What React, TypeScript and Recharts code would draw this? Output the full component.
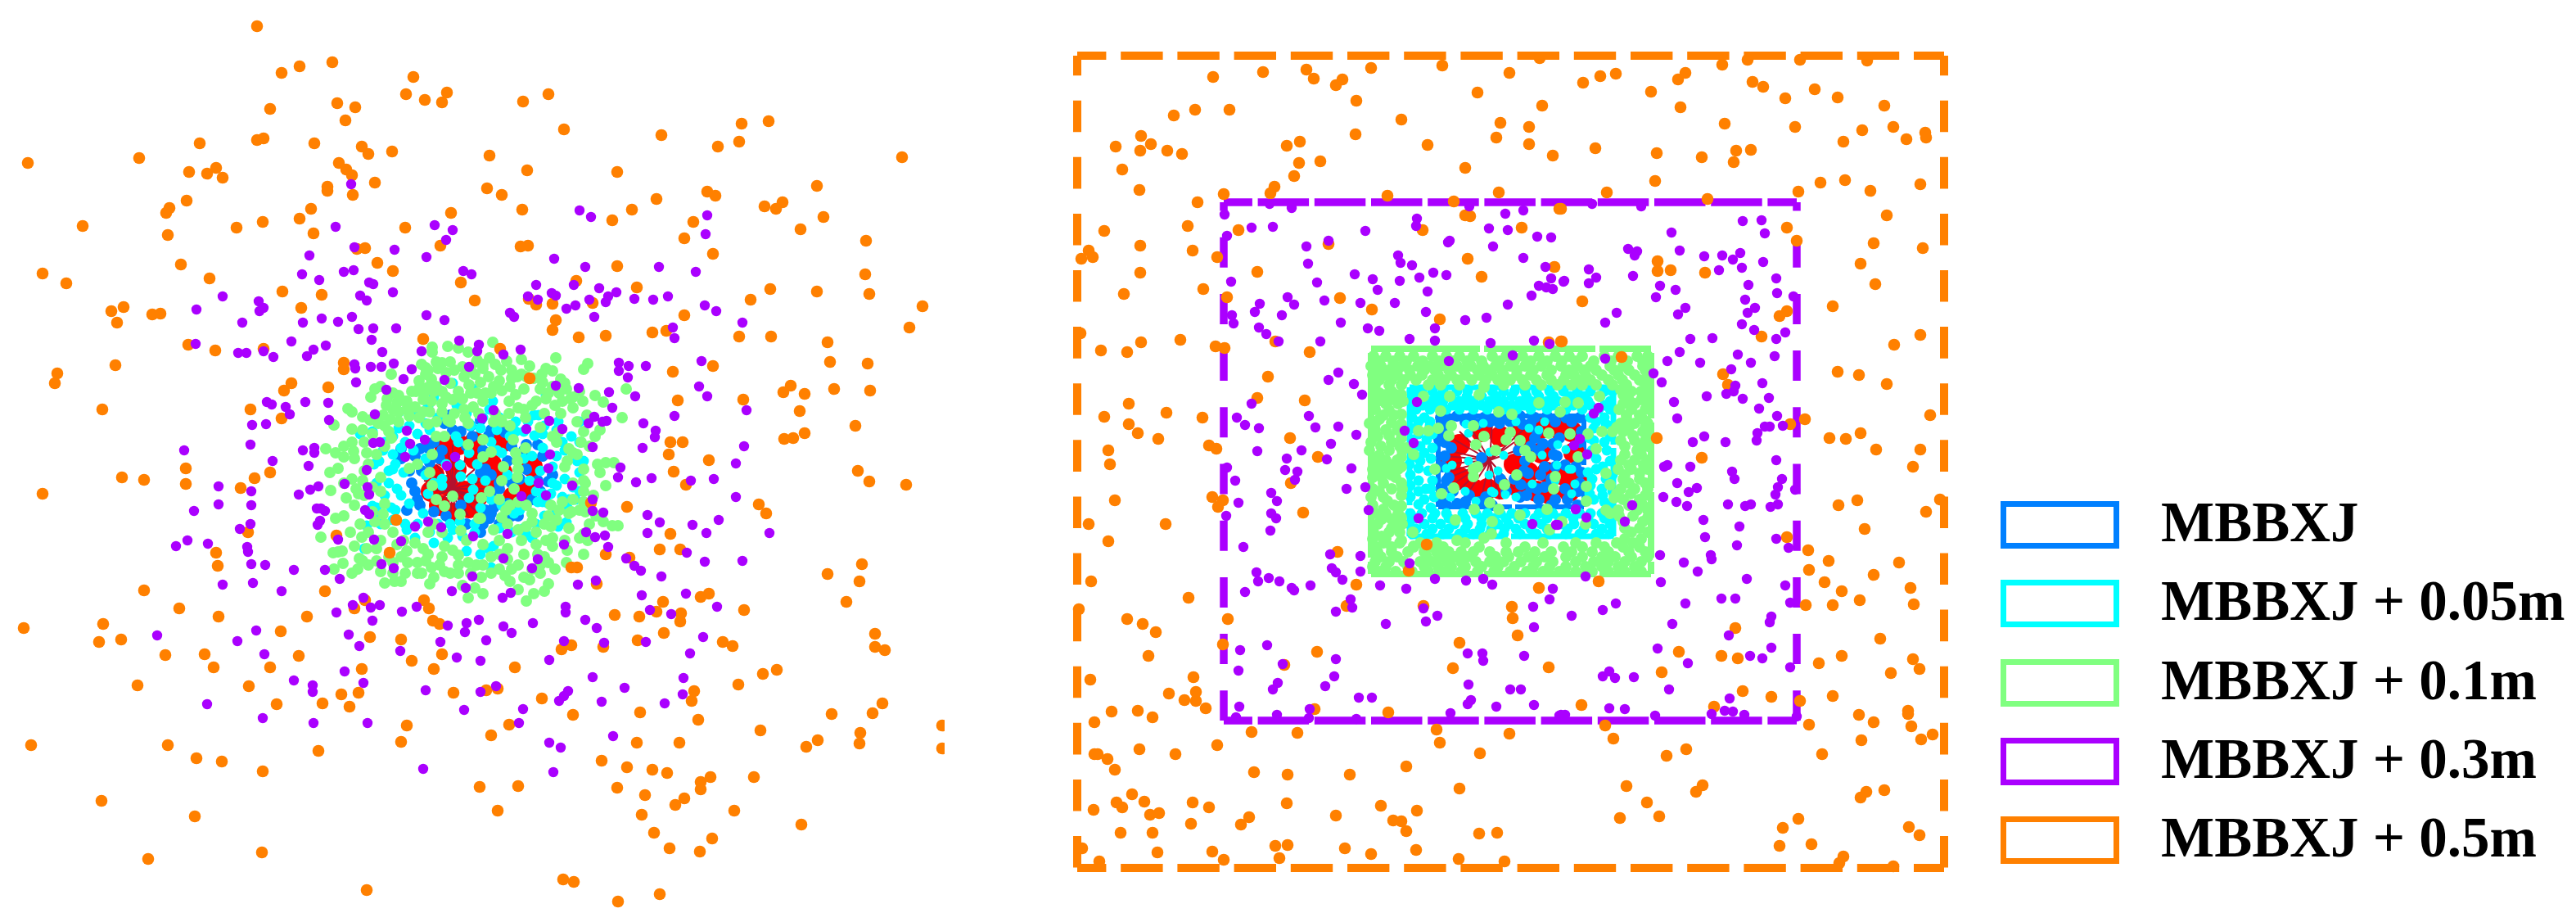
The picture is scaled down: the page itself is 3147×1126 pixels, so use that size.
import React from 'react';
import { ScatterChart, Scatter, XAxis, YAxis, ReferenceLine } from 'recharts';

// Point positions, in picture units (no axes in the original)
const leftOrange = [
  [314,32],[344,89],[366,81],[406,76],[505,94],[496,115],[519,122],[540,125],[546,113],[412,126],[434,131],[422,147],[330,133],[314,171],[322,169],[384,175],[442,179],[450,188],[479,185],[244,175],[170,193],[34,199],[231,210],[253,212],[264,205],[272,217],[414,199],[423,207],[430,214],[458,223],[400,228],[400,233],[431,238],[228,245],[207,254],[203,260],[380,255],[366,267],[101,276],[289,278],[321,271],[383,285],[205,287],[495,278],[551,260],[598,190],[595,230],[538,300],[436,304],[446,303],[461,321],[480,331],[563,345],[580,367],[221,323],[52,334],[81,346],[256,340],[345,356],[393,360],[368,376],[136,380],[151,375],[143,394],[186,384],[196,383],[230,421],[263,428],[322,426],[517,414],[141,446],[70,456],[67,468],[420,443],[420,451],[356,468],[347,477],[401,473],[125,500],[306,500],[344,511],
  [639,124],[670,115],[689,158],[808,165],[906,151],[939,148],[903,173],[877,179],[1102,192],[644,208],[754,210],[998,227],[613,238],[802,243],[864,234],[874,239],[934,252],[948,255],[956,247],[638,256],[772,256],[748,269],[847,271],[1006,265],[978,280],[836,291],[1058,294],[636,301],[645,300],[871,310],[754,325],[1057,335],[704,343],[941,353],[998,356],[1062,359],[778,351],[917,366],[646,365],[655,372],[675,371],[724,370],[1127,374],[836,385],[679,391],[675,403],[1111,400],[797,406],[814,404],[707,412],[740,410],[903,411],[942,411],[1011,418],[611,426],[1014,442],[1060,444],[871,447],[822,454],[647,462],[966,471],[957,479],[983,481],[1019,475],[1063,477],[828,489],[908,488],[977,502],[1045,520],[983,529],[958,536],[969,535],[819,540],[834,540],[817,555],[866,562],
  [227,572],[149,583],[176,586],[311,584],[330,577],[227,591],[294,596],[52,603],[484,635],[303,650],[411,654],[264,675],[266,691],[476,675],[176,721],[397,722],[446,733],[518,733],[433,743],[524,743],[219,743],[267,753],[375,753],[529,758],[537,762],[126,762],[29,767],[343,771],[121,784],[148,781],[452,778],[490,781],[202,800],[250,799],[365,801],[540,799],[261,815],[330,815],[503,807],[530,817],[442,817],[168,837],[304,838],[554,846],[594,843],[438,846],[417,848],[394,859],[338,860],[427,863],[497,886],[600,898],[490,906],[38,910],[205,910],[389,917],[240,926],[271,930],[321,942],[586,961],[124,978],[238,997],[320,1041],[181,1049],[448,1087],
  [823,576],[838,592],[1048,575],[1062,588],[1107,592],[766,619],[927,616],[936,627],[722,614],[819,652],[806,671],[831,671],[740,677],[769,681],[698,693],[705,693],[1053,689],[1011,701],[1050,710],[729,713],[1034,735],[810,735],[866,725],[856,729],[909,745],[751,751],[781,753],[802,747],[832,749],[831,759],[811,773],[1069,774],[1069,790],[1081,794],[779,782],[883,784],[895,789],[698,788],[686,793],[737,790],[629,815],[949,818],[932,823],[902,836],[608,841],[848,844],[845,856],[662,853],[1078,859],[1066,871],[1016,872],[700,873],[782,870],[853,879],[622,885],[929,892],[1151,886],[1051,895],[999,904],[985,912],[1050,908],[1151,914],[778,907],[830,907],[735,929],[766,937],[797,940],[815,944],[868,949],[921,949],[856,955],[856,964],[633,960],[754,962],[788,971],[836,975],[825,983],[608,990],[784,995],[897,990],[979,1007],[799,1017],[870,1024],[818,1036],[855,1040],[688,1074],[701,1077],[806,1092],[755,1101],
];

const leftPurple = [
  [429,225],[410,277],[531,275],[553,281],[545,293],[433,302],[482,305],[378,312],[521,314],[420,332],[432,330],[369,335],[390,342],[566,331],[576,335],[451,345],[456,347],[480,357],[272,362],[440,361],[448,367],[316,368],[322,376],[317,380],[240,378],[521,385],[430,387],[393,389],[413,393],[543,391],[296,394],[370,394],[438,402],[456,401],[484,401],[356,417],[454,415],[561,416],[239,420],[398,422],[383,427],[375,435],[322,429],[291,431],[301,431],[334,436],[467,430],[515,429],[585,421],[583,429],[433,445],[434,450],[453,448],[466,448],[481,444],[503,451],[573,448],[493,463],[543,464],[435,467],[472,476],[326,491],[332,494],[373,491],[401,492],[349,497],[354,506],[458,506],[402,513],[308,519],[325,518],[589,511],[497,526],[519,537],[306,543],[456,541],[464,540],[501,542],[225,550],[370,550],[384,547],[384,553],
  [708,257],[722,265],[864,263],[862,286],[677,316],[715,326],[805,326],[850,332],[655,348],[701,348],[732,352],[674,358],[679,361],[645,362],[657,366],[753,357],[743,362],[740,369],[720,366],[775,365],[798,366],[816,362],[703,373],[692,377],[861,373],[875,380],[623,382],[628,387],[726,387],[907,394],[822,400],[824,413],[636,427],[615,433],[756,443],[768,447],[789,447],[857,441],[756,453],[767,461],[679,471],[707,474],[854,472],[744,479],[776,484],[864,484],[912,501],[748,498],[824,508],[726,509],[671,514],[719,517],[741,514],[736,515],[786,517],[801,526],[800,534],[687,524],[643,524],[724,546],[785,547],[909,545],[672,555],[603,501],[556,558],[546,569],[495,558],
  [333,563],[377,569],[448,574],[267,594],[307,600],[421,591],[389,594],[379,598],[365,604],[449,595],[451,604],[267,616],[307,617],[237,624],[387,621],[392,621],[397,624],[446,623],[451,628],[391,636],[388,641],[306,640],[293,646],[507,643],[523,637],[539,644],[578,655],[457,659],[490,661],[413,659],[229,660],[215,667],[254,664],[302,668],[303,674],[307,689],[324,690],[466,689],[481,694],[359,696],[397,696],[415,707],[577,704],[272,714],[309,712],[344,722],[552,722],[569,718],[444,730],[431,739],[453,742],[464,739],[509,741],[411,748],[491,747],[455,758],[585,757],[547,764],[570,761],[568,772],[313,770],[192,776],[426,775],[290,783],[538,784],[594,782],[439,789],[489,795],[323,799],[558,803],[587,807],[421,820],[359,831],[444,834],[382,837],[382,845],[520,843],[587,845],[253,860],[567,867],[321,877],[383,883],[449,883],[517,939],
  [758,571],[755,583],[777,589],[796,584],[899,566],[872,585],[844,587],[899,607],[670,572],[658,590],[699,593],[667,605],[637,606],[620,652],[724,610],[724,624],[737,626],[791,629],[806,638],[846,641],[878,635],[791,651],[863,651],[940,651],[716,650],[727,656],[739,654],[689,665],[743,668],[839,675],[615,682],[657,683],[765,682],[861,686],[907,685],[775,691],[783,697],[650,694],[808,704],[728,709],[706,714],[838,725],[784,727],[614,730],[624,724],[876,741],[691,741],[691,748],[794,745],[820,750],[715,757],[651,761],[615,765],[729,767],[625,773],[859,778],[789,784],[689,783],[738,785],[843,798],[671,806],[724,827],[835,828],[763,840],[694,844],[689,850],[683,856],[834,848],[735,857],[812,859],[606,838],[639,866],[634,883],[749,899],[671,907],[685,913],[676,943],
];

const leftGreen = [
  [528,424],[528,430],[547,423],[572,430],[560,425],[602,418],[583,440],[598,437],[619,441],[637,439],[647,447],[679,437],[718,444],[713,451],[667,450],[675,453],[662,457],[685,463],[533,442],[550,442],[540,443],[520,449],[520,457],[512,465],[527,463],[513,472],[508,478],[523,473],[533,472],[540,478],[550,468],[567,460],[582,442],[590,450],[580,457],[597,460],[610,465],[603,472],[587,467],[573,470],[583,480],[593,480],[613,477],[623,472],[630,482],[622,490],[633,498],[643,460],[637,457],[663,467],[670,480],[683,480],[692,475],[708,478],[697,487],[687,490],[678,495],[667,487],[727,483],[737,491],[765,475],
  [478,457],[465,472],[458,475],[453,485],[473,487],[480,480],[487,483],[497,490],[480,500],[468,507],[487,503],[497,500],[507,497],[517,488],[527,490],[540,493],[553,488],[565,487],[425,499],[430,503],[443,509],[452,513],[462,517],[477,512],[408,519],[430,524],[443,525],[475,527],[487,515],[517,503],[523,518],[533,515],[547,513],[567,500],[578,497],[612,513],[623,520],[642,510],
  [398,548],[410,553],[420,558],[432,551],[433,560],[448,553],[413,572],[403,577],[423,608],[404,599],[435,597],[438,603],[433,617],[420,630],[410,633],[443,587],[450,567],[465,583],[470,615],[468,628],[458,637],[428,650],[442,656],[392,656],[433,667],[418,673],[407,675],[413,674],[439,682],[419,688],[408,695],[437,695],[443,685],[448,670],[460,670],[465,698],[470,712],[482,710],[490,710],[480,687],[490,680],[498,687],[510,687],[497,673],[493,660],[507,663],[517,670],[523,677],[537,690],[527,693],[515,700],[525,713],[543,698],[560,700],[572,730],[580,718],[590,725],[582,690],[588,705],[572,687],[560,678],[553,672],[543,667],[523,650],[563,648],[603,647],[587,633],[637,660],[640,677],[657,677],[633,690],[620,683],[610,677],[617,703],[623,710],[633,720],[652,725],[643,734],[665,722],[670,713],[647,708],[660,700],[678,695],[670,687],[667,660],[675,667],[675,657],[673,643],[670,630],[673,617],[683,623],[695,627],[687,613],[713,677],[713,652],[708,657],[718,660],[693,672],[692,687],
  [618,623],[623,617],[633,613],[643,617],[650,627],[650,637],[643,643],[633,647],[620,640],[613,632],
  [713,573],[730,567],[740,565],[750,565],[733,577],[740,593],[755,642],[748,642],[737,637],[728,630],[713,613],[708,623],[698,625],[713,600],[713,587],[693,563],[700,553],[710,540],[727,533],[733,525],[717,507],[705,515],[713,527],[682,528],[675,533],[660,522],[760,510],
  [572,543],[590,537],[600,552],[590,558],[528,555],[510,567],[500,572],[525,577],[615,570],[630,553],[632,563],[633,573],[632,583],[628,597],[613,587],[598,600],[610,610],[588,608],[553,606],[528,593],[533,610],[543,618],[562,628],[585,633],[533,533],[543,533],[550,515],[572,517],[603,515],[613,515],[627,537],[642,547],
];

// second pass over the crowded cloud, the green dots nearly merge there
const leftGreenFill = [
  [515,445],[523,452],[535,450],[545,455],[555,452],[565,448],[575,452],[590,445],[605,445],[612,452],[625,452],[632,460],[652,462],[660,475],[675,472],[690,468],[700,485],[655,490],[640,475],[625,462],[600,480],[590,490],[575,480],[560,478],[545,485],[530,478],[518,480],[503,478],[495,490],[485,492],[472,495],[500,508],[512,510],[525,503],[540,503],[555,505],[568,510],[585,505],[605,505],[622,505],[640,500],[650,495],[665,505],[685,505],[700,498],[712,490],
  [470,520],[455,530],[445,540],[430,540],[420,545],[478,535],[470,545],[460,555],[445,575],[430,585],[420,590],[455,595],[465,600],[445,605],[455,625],[440,640],[450,650],[470,640],[480,650],[465,660],[680,540],[695,548],[705,555],[720,545],[690,570],[700,590],[715,590],[725,605],[700,610],[680,635],[695,645],[665,640],[655,650],[715,625],[720,640],[690,660],
  [485,665],[475,680],[460,685],[450,690],[430,700],[520,685],[510,700],[495,700],[480,700],[530,705],[540,680],[550,700],[560,690],[575,700],[590,690],[600,700],[565,715],[600,680],[610,695],[625,695],[640,705],[650,695],[660,690],[620,670],[590,665],[610,660],[570,660],[540,650],[530,640],[655,665],[665,680],
];

const leftCyan = [
  [553,468],[578,475],[530,485],[558,495],[523,496],[506,503],[602,490],[598,500],[652,507],[658,507],[667,483],[488,503],[455,527],[440,530],[487,523],[480,533],[468,550],[463,563],[457,567],[483,567],[490,547],[520,517],[557,533],[573,517],[587,523],[607,525],[623,533],[640,527],[653,532],[663,530],[682,515],[708,515],[687,540],[698,533],[708,540],[705,563],[708,577],[680,557],[663,547],[650,557],[613,553],[600,540],[573,553],[560,540],[545,567],[562,568],[563,582],[577,585],[593,587],[578,598],[573,608],[540,593],[520,580],[523,603],[607,550],[583,567],[630,527],
  [480,573],[485,597],[475,590],[493,577],[455,618],[460,620],[478,620],[483,623],[448,642],[458,630],[445,670],[497,647],[507,657],[517,627],[530,663],[547,657],[553,647],[562,637],[580,640],[597,670],[603,667],[600,693],[587,677],[570,673],[650,657],[643,653],[657,613],[663,613],[673,603],[687,607],[693,620],[682,643],[692,638],[703,610],[708,600],[680,593],[663,603],[647,587],[628,627],[635,623],[613,617],[587,620],[713,563],
  [500,520],[510,530],[525,525],[535,510],[570,505],[590,510],[610,510],[630,515],[645,515],[665,520],[680,525],[690,550],[675,570],[690,585],[700,595],[675,590],[660,575],[470,540],[480,555],[495,540],[505,550],[475,575],[460,590],[490,605],[500,615],[470,605],[465,640],[480,635],[495,640],[510,640],[525,650],[535,640],[550,640],[565,655],[580,650],[610,645],[625,650],[640,645],[655,640],[665,630],[680,625],[670,615],[655,600],[695,610],[520,560],[530,590],[600,610],[620,580],[640,560],[600,500],[575,520],[540,585],
];

const leftBlue = [
  [550,507],[543,517],[553,525],[587,513],[617,528],[597,532],[577,533],[563,527],[530,540],[513,548],[507,557],[490,548],[537,560],[523,547],[587,577],[600,580],[610,590],[593,573],[610,597],[670,588],[657,587],[620,563],[643,573],[503,590],[507,600],[497,623],[513,617],[600,627],[598,633],[603,620],[593,623],[625,630],[633,630],[587,650],[563,617],[657,543],[643,543],[663,557],
  [575,520],[600,525],[625,545],[640,550],[525,565],[515,575],[500,575],[510,610],[530,625],[590,640],[610,640],[620,615],[650,610],[660,600],[675,580],[600,605],[625,590],[540,550],[570,545],[590,550],[635,585],[570,640],[545,630],[490,560],
];

const leftRed = [
  [527,600],[537,617],[553,627],[573,620],[583,607],[547,593],[567,600],[530,580],[543,557],[560,543],[580,540],[543,543],[600,567],[593,590],[613,577],[613,540],[640,563],[650,570],[637,600],[645,600],[627,607],[580,560],[557,573],[613,533],
];

const leftFanEnds = [
  [520,600],[518,593],[518,587],[522,580],[527,607],[532,617],[537,623],[543,630],[550,633],[557,635],[563,632],[572,630],[580,623],[587,617],[593,613],[583,607],[527,577],[533,567],[540,560],[547,550],[553,543],[560,560],[570,557],[580,573],[593,587],[600,597],
];

const rightOrange = [
  [1482,94],[1543,88],[1596,85],[1605,96],[1632,104],[1640,97],[1675,83],[1762,80],[1844,89],[1881,71],[1805,113],[1657,123],[1884,129],[1434,141],[1460,134],[1502,134],[1712,146],[1833,150],[1868,155],[1394,166],[1656,164],[1828,168],[1363,179],[1406,176],[1393,184],[1426,184],[1444,188],[1572,178],[1588,173],[1744,177],[1868,176],[1897,190],[1587,199],[1613,197],[1371,207],[1581,215],[1790,205],[1392,232],[1557,228],[1552,236],[1495,237],[1695,239],[1831,235],[1463,247],[1776,246],[1905,255],[1790,263],[1796,264],[1349,282],[1451,276],[1513,281],[1738,281],[1859,278],[1623,298],[1393,300],[1457,306],[1330,306],[1321,316],[1335,314],[1487,314],[1793,316],[1899,326],[1393,333],[1536,332],[1810,338],[1373,359],[1470,353],[1499,363],[1637,364],[1676,378],[1759,390],[1320,407],[1442,415],[1394,418],[1345,428],[1377,430],[1558,417],[1485,423],[1496,425],[1600,430],[1892,418],[1907,417],[1549,460],[1536,486],[1594,489],[1379,493],[1425,504],[1349,509],[1469,510],[1379,518],[1390,529],[1415,536],[1576,535],[1477,544],[1486,548],[1354,550],[1610,558],[1356,567],
  [1934,101],[1955,93],[1974,90],[2017,112],[2050,97],[2059,89],[2104,79],[2135,73],[2199,73],[2281,74],[2141,100],[2154,106],[2181,120],[2217,109],[2245,119],[2053,131],[2302,129],[2107,151],[2193,155],[2275,159],[2313,155],[2252,173],[2329,170],[2352,162],[2353,168],[1949,181],[2024,187],[2079,192],[2121,184],[2139,183],[2118,198],[2022,221],[2224,223],[2254,220],[2285,233],[2346,225],[2197,234],[1963,235],[2086,243],[1907,255],[2305,263],[2183,278],[2195,294],[2289,297],[2349,303],[2273,322],[2025,319],[2025,331],[2041,330],[2083,333],[2291,347],[1933,368],[2239,374],[2183,380],[2174,386],[2152,411],[2346,409],[1908,417],[2314,421],[1981,436],[2105,457],[2245,454],[2271,458],[2111,470],[2305,469],[2358,507],[2205,512],[2187,518],[2024,535],[2235,535],[2255,536],[2273,529],[2292,549],[2346,549],[2079,559],[2337,570],
  [1362,611],[1481,607],[1494,611],[1488,619],[1577,590],[1592,626],[1330,640],[1424,640],[1354,661],[1743,665],[1634,674],[1721,697],[1333,710],[1657,714],[1880,718],[1452,730],[1847,741],[1739,740],[1645,740],[1318,744],[1377,756],[1396,762],[1412,772],[1500,756],[1848,755],[1854,776],[1783,785],[1494,787],[1609,796],[1403,801],[1569,812],[1775,816],[1892,815],[1458,827],[1332,830],[1428,847],[1461,845],[1447,855],[1461,856],[1473,865],[1358,869],[1390,868],[1408,876],[1606,866],[1696,870],[1337,882],[1529,894],[1585,895],[1755,891],[1844,896],[1759,907],[1487,910],[1392,915],[1337,921],[1341,921],[1436,921],[1353,927],[1808,920],[1718,936],[1362,940],[1532,943],[1573,946],[1649,946],[1783,963],[1383,970],[1364,980],[1398,979],[1371,986],[1336,989],[1457,980],[1477,986],[1572,981],[1687,984],[1731,990],[1405,995],[1416,993],[1526,998],[1632,996],[1516,1007],[1455,1006],[1702,1002],[1712,1003],[1718,1015],[1369,1017],[1408,1017],[1807,1018],[1829,1017],[1322,1036],[1558,1033],[1573,1032],[1643,1036],[1414,1041],[1481,1040],[1675,1043],[1730,1038],[1563,1048],[1495,1050],[1782,1049],[1838,1052],[1343,1052],
  [2246,617],[2269,611],[2370,610],[2353,625],[2278,646],[2183,656],[2209,672],[2234,685],[2320,687],[2210,696],[2289,702],[2229,711],[2334,718],[1953,710],[2250,722],[2272,733],[2206,739],[2239,739],[2338,738],[2120,767],[2297,780],[2051,796],[2103,801],[2123,804],[2250,801],[2222,810],[2337,805],[2345,817],[2310,822],[2030,821],[2129,844],[2164,851],[2239,850],[2199,856],[1932,861],[2094,863],[2271,873],[2289,882],[2331,868],[2331,872],[2335,887],[2210,885],[1961,886],[2361,897],[2347,903],[2274,904],[1971,902],[2036,923],[2060,915],[2226,921],[1987,960],[2080,959],[2072,967],[2280,967],[2273,974],[2302,965],[2012,980],[1979,999],[2027,997],[2197,1000],[2178,1011],[2332,1010],[2345,1020],[2174,1033],[2213,1031],[2252,1046],[2247,1054],[2313,1058],
];

const rightPurple = [
  [1496,262],[1551,249],[1578,254],[1731,267],[1730,276],[1795,252],[1839,261],[1861,257],[1529,278],[1555,277],[1668,282],[1819,279],[1842,281],[1499,288],[1878,289],[1895,290],[1623,294],[1596,301],[1769,296],[1771,294],[1824,301],[1708,312],[1711,321],[1861,315],[1598,322],[1725,324],[1888,326],[1655,335],[1751,333],[1767,336],[1677,341],[1734,339],[1710,343],[1504,344],[1609,345],[1895,340],[1910,344],[1880,349],[1897,353],[1889,351],[1683,354],[1744,356],[1871,361],[1573,363],[1539,371],[1581,372],[1618,367],[1662,370],[1704,370],[1842,372],[1533,381],[1742,381],[1566,385],[1505,385],[1507,395],[1816,388],[1790,391],[1638,394],[1538,400],[1671,401],[1685,404],[1753,401],[1547,408],[1562,417],[1613,417],[1722,414],[1753,416],[1821,419],[1874,416],[1893,420],[1848,434],[1770,441],[1635,455],[1623,464],[1654,469],[1664,482],[1529,493],[1731,491],[1511,510],[1599,508],[1521,519],[1538,523],[1607,522],[1635,521],[1657,531],[1716,526],[1727,541],[1536,551],[1626,542],[1590,550],[1572,560],[1621,561],[1499,571],[1570,574],[1585,576],[1651,572],
  [2129,270],[2152,269],[2156,285],[2042,284],[1989,304],[1997,312],[2000,307],[2052,306],[2082,313],[2104,312],[2126,309],[2117,317],[2154,320],[1941,329],[2128,327],[2100,330],[1950,339],[1995,337],[1911,343],[1941,346],[2170,340],[2028,349],[2136,348],[2047,354],[2171,358],[2023,363],[2132,366],[2191,362],[2059,376],[2050,384],[2144,376],[2135,382],[1975,382],[1961,394],[2128,396],[2143,403],[2181,406],[2170,414],[2065,414],[2092,413],[2052,430],[2123,433],[2168,435],[2037,441],[2077,443],[2139,443],[1961,438],[2115,451],[2020,456],[2030,467],[2120,471],[2153,468],[2118,478],[2085,484],[2109,481],[2161,486],[2129,487],[2045,491],[2149,499],[2049,511],[2171,508],[2156,521],[2162,521],[2178,520],[2147,529],[2082,533],[2146,538],[2068,540],[2108,540],[2170,562],[2116,576],[2033,570],[2037,568],[2065,570],[1945,249],[2005,252],[1953,498],[1947,505],[1930,536],[1923,544],[1939,555],
  [1509,587],[1582,586],[1645,597],[1668,595],[1553,602],[1560,612],[1513,614],[1553,627],[1559,633],[1498,630],[1552,648],[1672,623],[1733,633],[1872,640],[1901,641],[1519,668],[1625,677],[1662,679],[1627,694],[1632,699],[1662,698],[1722,688],[1535,699],[1537,710],[1550,706],[1563,710],[1578,718],[1581,721],[1601,715],[1640,708],[1521,723],[1686,715],[1718,719],[1753,707],[1791,709],[1812,707],[1823,714],[1897,719],[1650,732],[1652,742],[1632,747],[1739,743],[1756,752],[1742,759],[1693,762],[1873,741],[1893,732],[1874,766],[1515,794],[1548,788],[1793,798],[1811,798],[1812,807],[1862,801],[1632,805],[1567,811],[1513,819],[1630,826],[1561,834],[1555,842],[1619,838],[1794,836],[1845,842],[1858,842],[1660,852],[1676,852],[1797,855],[1793,860],[1828,863],[1874,861],[1514,863],[1600,866],[1772,871],[1510,876],[1560,873],[1657,878],[1599,877],[1907,873],
  [2177,585],[2172,595],[2169,604],[2193,598],[2119,585],[2049,590],[2073,596],[2063,601],[2032,607],[2048,613],[2061,618],[2111,616],[2132,618],[2139,616],[2163,619],[2172,616],[1994,617],[1925,622],[1938,632],[1985,637],[1903,641],[2081,635],[2125,643],[2083,656],[2170,658],[2122,666],[2185,669],[2028,678],[2090,678],[2091,683],[2057,687],[2074,698],[2134,707],[2181,715],[2029,711],[1937,704],[2059,737],[2103,731],[2120,731],[2187,736],[1974,737],[1958,745],[1920,752],[2164,753],[2162,760],[2043,762],[2112,776],[2025,792],[2164,791],[2138,801],[2153,804],[2062,810],[2187,815],[1958,826],[1966,820],[1973,828],[1996,827],[2039,842],[2113,853],[1966,865],[1985,866],[2107,868],[2117,869],[2091,872],[2131,873],[2022,874],[1912,873],[2195,875],[1905,874],
];

const rightGreen = [
  [1678,435],[1693,435],[1710,435],[1727,435],[1750,435],[1767,435],[1783,435],[1800,435],[1823,435],[1840,435],[1860,435],[1880,435],[1900,435],[1917,435],[1933,435],[1960,435],[1977,435],[2000,435],[2013,435],
  [1675,447],[1687,447],[1702,447],[1713,447],[1732,447],[1747,447],[1760,447],[1780,447],[1797,447],[1812,447],[1827,447],[1845,447],[1863,447],[1883,447],[1907,447],[1927,447],[1943,447],[1967,447],[1983,447],[2007,447],
  [1677,458],[1692,458],[1707,458],[1723,458],[1737,458],[1757,458],[1773,458],[1790,458],[1807,458],[1823,458],[1837,458],[1853,458],[1870,458],[1890,458],[1913,458],[1923,458],[1937,458],[1957,458],[1977,458],[1997,458],[2013,458],
  [1680,470],[1697,470],[1712,470],[1745,470],[1760,470],[1783,470],[1813,470],[1837,470],[1863,470],[1883,470],[1903,470],[1920,470],[1933,470],[1950,470],[1970,470],[1987,470],[2010,470],
  [1678,482],[1693,482],[1705,482],[1693,493],[1708,493],[1690,507],[1703,507],[1680,517],[1673,517],[1680,525],[1693,525],[1707,525],[1675,540],[1700,540],[1673,550],[1697,550],[1713,550],[1680,562],[1693,562],[1707,562],[1677,573],[1693,573],[1708,573],[1677,583],[1688,583],[1705,583],[1677,597],[1700,597],[1713,597],[1690,607],[1675,607],[1677,617],[1703,617],[1680,627],[1693,627],[1708,627],[1683,640],[1707,640],[1713,640],[1678,650],[1697,650],[1677,658],[1693,658],
  [1680,668],[1700,668],[1727,668],[1747,668],[1763,668],[1807,668],[1863,668],[1910,668],[1933,668],[1960,668],[1983,668],[2003,668],
  [1687,680],[1707,680],[1743,680],[1760,680],[1777,680],[1793,680],[1827,680],[1843,680],[1867,680],[1887,680],[1913,680],[1933,680],[1957,680],[1973,680],[1993,680],[2013,680],
  [1677,692],[1693,692],[1720,692],[1740,692],[1757,692],[1773,692],[1790,692],[1810,692],[1830,692],[1850,692],[1873,692],[1893,692],[1913,692],[1937,692],[1957,692],[1977,692],[1997,692],
  [1983,482],[2010,482],[1983,493],[1997,493],[2013,493],[1987,507],[2003,507],[1980,517],[1997,517],[2013,517],[1970,527],[1983,527],[2007,527],[1980,538],[1997,538],[2010,538],[2000,550],[1980,562],[1997,562],[2013,562],[1977,573],[1993,573],[2013,573],[1983,585],[2003,585],[1980,597],[1997,597],[2013,597],[1983,610],[2003,610],[1977,623],[2000,623],[2013,623],[1983,637],[2007,637],[1993,650],[2013,650],
  [1739,484],[1771,484],[1807,482],[1813,473],[1880,492],[1912,491],[1928,492],[1954,484],[1831,503],[1847,506],[1906,503],[1760,502],[1800,520],[1813,533],[1803,543],[1840,537],[1845,528],[1857,538],[1892,529],[1918,530],[1863,550],[1870,558],[1827,550],[1940,530],[1957,527],[1950,548],[1928,558],[1733,526],[1745,526],[1757,523],[1773,520],[1770,532],[1800,573],[1805,570],[1800,582],[1853,580],[1900,582],[1898,597],[1838,592],[1776,596],[1761,603],[1820,614],[1831,622],[1801,622],[1857,629],[1890,622],[1938,594],[1938,612],[1778,635],[1823,637],[1726,650],[1753,573],[1718,547],[1727,555],[1962,578],[1967,592],[1972,608],[1962,623],[1967,627],[1780,660],[1813,657],[1822,652],[1937,640],[1908,637],[1893,647],[1727,667],
];

// second pass over the green frame, the band is almost solid in the original
const rightGreenFill = [
  [1685,441],[1702,441],[1718,441],[1738,441],[1758,441],[1775,441],[1792,441],[1810,441],[1832,441],[1850,441],[1870,441],[1890,441],[1908,441],[1925,441],[1947,441],[1968,441],[1988,441],[2007,441],
  [1682,452],[1697,452],[1707,452],[1722,452],[1740,452],[1753,452],[1770,452],[1788,452],[1805,452],[1818,452],[1835,452],[1853,452],[1873,452],[1895,452],[1917,452],[1935,452],[1950,452],[1972,452],[1990,452],[2010,452],
  [1685,464],[1700,464],[1715,464],[1730,464],[1750,464],[1765,464],[1780,464],[1798,464],[1815,464],[1830,464],[1845,464],[1860,464],[1877,464],[1895,464],[1910,464],[1927,464],[1943,464],[1965,464],[1982,464],[2003,464],
  [1685,480],[1700,478],[1712,482],[1683,490],[1700,488],[1714,490],[1680,500],[1697,501],[1712,506],[1685,512],[1712,518],[1700,516],[1683,533],[1697,532],[1712,535],[1687,545],[1710,545],[1685,556],[1712,558],[1700,568],[1685,568],[1712,570],[1683,578],[1700,580],[1690,590],[1712,590],[1685,600],[1712,605],[1695,612],[1690,622],[1712,618],[1700,634],[1688,634],[1712,632],[1700,645],[1688,655],[1710,650],[1712,660],
  [1980,476],[1993,478],[2005,478],[1990,488],[2005,488],[1978,500],[1993,500],[2010,500],[1987,512],[2007,512],[1975,522],[1990,522],[2010,522],[1995,532],[2012,532],[1985,545],[2003,545],[2013,545],[1985,555],[2005,555],[1990,568],[2008,568],[1985,580],[2003,578],[1990,590],[2010,590],[1975,603],[1992,603],[2010,605],[1990,617],[2007,617],[1978,630],[1995,630],[2013,632],[1985,645],[2003,645],[1985,658],[2005,658],
  [1690,663],[1710,663],[1735,663],[1755,663],[1790,663],[1840,663],[1885,663],[1925,663],[1950,663],[1975,663],[1995,663],
  [1683,674],[1700,674],[1720,674],[1740,674],[1755,674],[1770,674],[1785,674],[1800,674],[1820,674],[1840,674],[1855,674],[1875,674],[1895,674],[1920,674],[1945,674],[1965,674],[1990,674],[2010,674],
  [1680,686],[1697,686],[1715,686],[1735,686],[1750,686],[1768,686],[1785,686],[1803,686],[1820,686],[1837,686],[1858,686],[1877,686],[1897,686],[1925,686],[1947,686],[1965,686],[1985,686],[2005,686],
  [1685,698],[1705,698],[1725,698],[1745,698],[1765,698],[1785,698],[1805,698],[1825,698],[1845,698],[1865,698],[1885,698],[1905,698],[1925,698],[1945,698],[1965,698],[1985,698],[2005,698],
];

const rightCyan = [
  [1725,478],[1737,478],[1750,478],[1763,478],[1780,478],[1793,478],[1823,478],[1837,478],[1850,478],[1863,478],[1877,478],[1893,478],[1910,478],[1927,478],[1943,478],[1960,478],[1970,478],
  [1727,490],[1747,490],[1763,490],[1783,490],[1800,490],[1820,490],[1837,490],[1857,490],[1870,490],[1890,490],[1903,490],[1927,490],[1940,490],[1967,490],
  [1730,500],[1747,500],[1767,500],[1783,500],[1800,500],[1817,500],[1837,500],[1853,500],[1870,500],[1890,500],[1913,500],[1933,500],[1953,500],[1967,500],
  [1725,510],[1740,510],[1725,523],[1747,520],[1725,537],[1743,537],[1725,550],[1740,553],[1750,547],[1722,567],[1735,563],[1723,580],[1750,587],[1723,593],[1742,597],[1752,607],[1723,607],[1740,610],
  [1943,510],[1960,510],[1970,520],[1947,523],[1967,533],[1947,538],[1963,550],[1950,560],[1967,563],[1940,577],[1950,573],[1970,580],[1943,593],[1957,597],[1970,600],[1947,610],[1960,613],[1968,617],
  [1723,627],[1737,627],[1753,627],[1767,627],[1787,627],[1803,627],[1817,627],[1833,627],[1847,627],[1863,627],[1880,627],[1897,627],[1913,627],[1930,627],[1943,627],[1957,627],[1970,627],
  [1722,640],[1740,640],[1760,640],[1777,640],[1793,640],[1810,640],[1830,640],[1843,640],[1863,640],[1883,640],[1907,640],[1923,640],[1947,640],[1967,640],
  [1725,652],[1743,652],[1763,652],[1783,652],[1800,652],[1820,652],[1837,652],[1857,652],[1877,652],[1893,652],[1913,652],[1930,652],[1950,652],[1967,652],
  [1733,484],[1755,484],[1773,484],[1792,484],[1810,484],[1828,484],[1847,484],[1865,484],[1880,484],[1898,484],[1918,484],[1935,484],[1955,484],
  [1738,495],[1755,495],[1775,495],[1792,495],[1810,495],[1828,495],[1847,495],[1862,495],[1880,495],[1897,495],[1922,495],[1943,495],[1960,495],
  [1733,515],[1747,515],[1733,530],[1750,530],[1735,545],[1730,558],[1748,560],[1733,572],[1745,575],[1733,587],[1748,597],[1733,600],[1748,620],[1733,616],
  [1950,515],[1962,518],[1942,535],[1960,540],[1945,550],[1958,570],[1945,585],[1962,585],[1942,603],[1958,605],
  [1730,633],[1750,633],[1770,633],[1790,633],[1810,633],[1825,633],[1840,633],[1855,633],[1875,633],[1890,633],[1905,633],[1922,633],[1940,633],[1960,633],
  [1730,646],[1750,646],[1770,646],[1790,646],[1808,646],[1822,646],[1838,646],[1852,646],[1870,646],[1890,646],[1915,646],[1935,646],[1957,646],
];

// cyan dots sitting on top of the blue and red core
const rightCyanCore = [
  [1791,518],[1812,517],[1794,529],[1852,515],[1887,515],[1868,523],[1880,525],[1903,543],[1913,549],[1884,556],[1837,556],[1794,563],[1774,568],[1767,572],[1819,580],[1830,575],[1822,600],[1825,602],[1839,604],[1820,552],[1902,568],[1917,573],[1920,573],[1900,587],[1924,591],[1872,591],[1790,600],[1772,607],[1803,612],[1852,607],[1920,603],
];

const rightBlue = [
  [1760,510],[1780,508],[1797,510],[1813,510],[1827,513],[1832,517],[1837,510],[1857,508],[1870,517],[1890,508],[1913,510],[1930,510],[1932,527],[1763,527],[1758,537],[1773,547],[1765,557],[1770,583],[1767,587],[1760,610],[1767,617],[1790,613],[1807,613],[1833,585],[1858,592],[1867,578],[1882,580],[1863,563],[1862,575],[1878,527],[1885,542],[1897,542],[1898,555],[1887,570],[1902,557],[1810,559],[1857,607],[1878,597],[1887,595],[1912,597],[1927,617],[1900,610],[1880,610],[1823,617],[1930,560],[1932,577],[1930,590],
  [1770,515],[1790,515],[1805,518],[1820,515],[1845,515],[1860,518],[1875,510],[1900,515],[1920,515],[1762,520],[1765,540],[1762,570],[1762,597],[1775,600],[1780,615],[1795,605],[1815,607],[1840,600],[1865,605],[1895,617],[1915,610],[1928,600],[1930,540],[1925,570],[1880,550],[1900,570],[1870,595],[1850,585],[1895,585],[1912,568],[1905,535],[1875,535],[1855,550],[1870,545],
];

const rightRed = [
  [1783,543],[1773,563],[1783,583],[1800,597],[1817,597],[1833,597],[1833,533],[1810,527],[1860,527],[1883,523],[1903,523],[1920,527],[1923,553],[1883,553],[1863,540],[1850,567],[1867,577],[1890,577],[1910,580],[1927,583],[1917,600],[1893,603],[1877,600],[1857,597],
];

const rightFanEnds = [
  [1765,567],[1767,557],[1768,550],[1777,537],[1783,527],[1797,523],[1823,517],[1850,520],[1863,523],[1765,577],[1767,585],[1783,598],[1793,603],[1810,607],[1823,610],[1832,610],[1850,597],[1853,550],[1850,540],[1777,590],
];

// Dashed box sides as [x1, y1, x2, y2]
const orangeBox = [1316, 68, 2375, 1060];
const purpleBox = [1495, 247, 2195, 880];
const greenBox = [1675, 426, 2017, 701];
const cyanBox = [1722, 473, 1971, 655];
const blueBox = [1757, 508, 1935, 619];

const legendNames = ['MBBXJ', 'MBBXJ + 0.05m', 'MBBXJ + 0.1m', 'MBBXJ + 0.3m', 'MBBXJ + 0.5m'];
const legendColors = ['#0080ff', '#00ffff', '#80ff80', '#aa00ff', '#ff8000'];

const RED = '#ff0000';
const FAN = '#b3122e';
const BLUE = legendColors[0];
const CYAN = legendColors[1];
const GREEN = legendColors[2];
const PURPLE = legendColors[3];
const ORANGE = legendColors[4];

const toPoints = (pairs: number[][]) => pairs.map(([x, y]) => ({ x, y }));

const fanPoints = (center: number[], ends: number[][]) =>
  toPoints(ends.flatMap((end) => [center, end]));

const dot = (color: string, r: number) => (props: any) =>
  <circle cx={props.cx} cy={props.cy} r={r} fill={color} />;

const noDot = () => <g />;

const axes = (x0: number, x1: number) => [
  <XAxis key="x" type="number" dataKey="x" domain={[x0, x1]} hide allowDataOverflow />,
  <YAxis key="y" type="number" dataKey="y" domain={[0, 1126]} reversed hide allowDataOverflow />,
];

// one box drawn side by side so each side keeps its own dash pattern
const boxSides = (box: number[], color: string, width: number, hDash: string, vDash: string, hOffset: number, vOffset: number) => {
  const [x1, y1, x2, y2] = box;
  const side = (key: string, a: any, b: any, dash: string, offset: number) => (
    <ReferenceLine
      key={key}
      segment={[a, b]}
      stroke={color}
      strokeWidth={width}
      strokeDasharray={dash}
      strokeDashoffset={offset}
    />
  );
  return [
    side(color + 't', { x: x1, y: y1 }, { x: x2, y: y1 }, hDash, hOffset),
    side(color + 'b', { x: x1, y: y2 }, { x: x2, y: y2 }, hDash, hOffset),
    side(color + 'l', { x: x1, y: y1 }, { x: x1, y: y2 }, vDash, vOffset),
    side(color + 'r', { x: x2, y: y1 }, { x: x2, y: y2 }, vDash, vOffset),
  ];
};

const Core = (fan: { x: number; y: number }[], red: number[][]) => [
  <Scatter key="red" data={toPoints(red)} shape={dot(RED, 13)} isAnimationActive={false} />,
  <Scatter key="fan" data={fan} shape={noDot} line={{ stroke: FAN, strokeWidth: 2 }} lineType="joint" isAnimationActive={false} />,
];

const App = () => {
  return (
    <div style={{ position: 'absolute', left: 0, top: 0, width: 3147, height: 1126, background: '#fff' }}>
      <div style={{ position: 'absolute', left: 0, top: 0 }}>
        <ScatterChart width={1154} height={1126} margin={{ top: 0, right: 0, bottom: 0, left: 0 }}>
          {axes(0, 1154)}
          {Core(fanPoints([553, 597], leftFanEnds), leftRed)}
          <Scatter data={toPoints(leftBlue)} shape={dot(BLUE, 7)} isAnimationActive={false} />
          <Scatter data={toPoints(leftCyan)} shape={dot(CYAN, 6.5)} isAnimationActive={false} />
          <Scatter data={toPoints(leftGreen)} shape={dot(GREEN, 7)} isAnimationActive={false} />
          <Scatter data={toPoints(leftGreenFill)} shape={dot(GREEN, 7)} isAnimationActive={false} />
          <Scatter data={toPoints(leftOrange)} shape={dot(ORANGE, 7.3)} isAnimationActive={false} />
          <Scatter data={toPoints(leftPurple)} shape={dot(PURPLE, 6.2)} isAnimationActive={false} />
        </ScatterChart>
      </div>
      <div style={{ position: 'absolute', left: 1200, top: 0 }}>
        <ScatterChart width={1240} height={1126} margin={{ top: 0, right: 0, bottom: 0, left: 0 }}>
          {axes(1200, 2440)}
          {boxSides(orangeBox, ORANGE, 10, '51.4 17.8', '38.6 30.5', 16, 14.4)}
          {boxSides(purpleBox, PURPLE, 9.5, '62.5 6.7', '37 32.2', 27.6, 26.5)}
          {boxSides(greenBox, GREEN, 8, '136 5', '80 5', 3, 80)}
          {boxSides(cyanBox, CYAN, 7, '120 4', '70 4', 0, 0)}
          {boxSides(blueBox, BLUE, 6, '90 4', '60 4', 0, 0)}
          {Core(fanPoints([1820, 562], rightFanEnds), rightRed)}
          <Scatter data={toPoints(rightBlue)} shape={dot(BLUE, 7)} isAnimationActive={false} />
          <Scatter data={toPoints(rightCyan)} shape={dot(CYAN, 6.5)} isAnimationActive={false} />
          <Scatter data={toPoints(rightCyanCore)} shape={dot(CYAN, 5.5)} isAnimationActive={false} />
          <Scatter data={toPoints(rightGreen)} shape={dot(GREEN, 7)} isAnimationActive={false} />
          <Scatter data={toPoints(rightGreenFill)} shape={dot(GREEN, 7)} isAnimationActive={false} />
          <Scatter data={toPoints(rightOrange)} shape={dot(ORANGE, 7.3)} isAnimationActive={false} />
          <Scatter data={toPoints(rightPurple)} shape={dot(PURPLE, 6.2)} isAnimationActive={false} />
        </ScatterChart>
      </div>
      {legendNames.map((name, i) => (
        <div key={name} style={{ position: 'absolute', left: 2444, top: 612 + i * 96.3, height: 58, display: 'flex', alignItems: 'center' }}>
          <div style={{ width: 131, height: 44, border: `7px solid ${legendColors[i]}` }} />
          <span style={{ marginLeft: 51, position: 'relative', top: -3, fontFamily: '"Liberation Serif"', fontWeight: 'bold', fontSize: 69, lineHeight: '58px', color: '#000', whiteSpace: 'nowrap' }}>
            {name}
          </span>
        </div>
      ))}
    </div>
  );
};

export default App;
